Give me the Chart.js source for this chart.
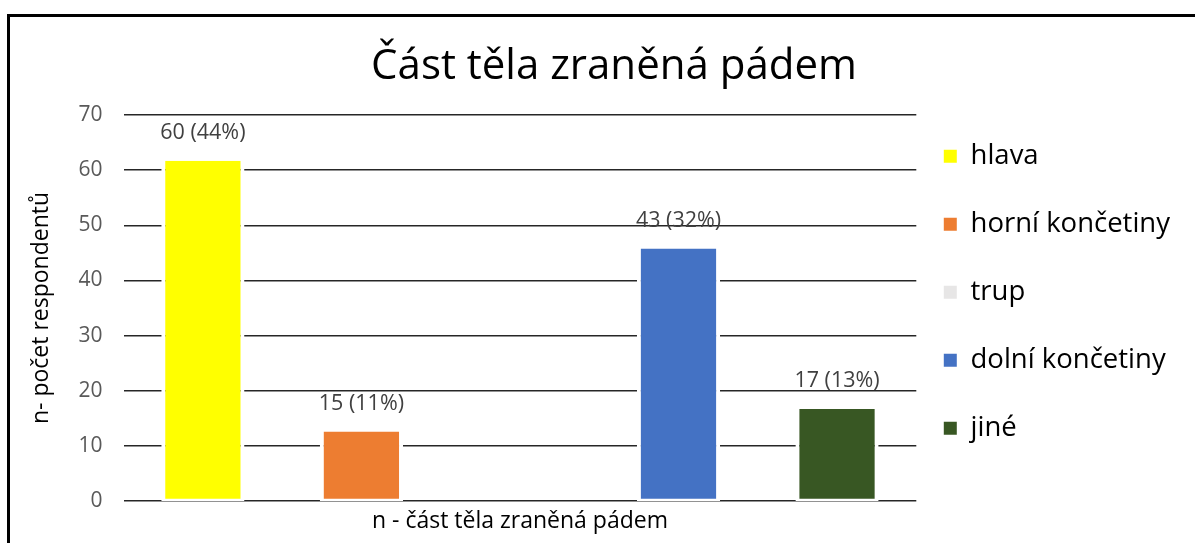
<!DOCTYPE html>
<html>
<head>
<meta charset="utf-8">
<script src="https://cdn.jsdelivr.net/npm/chart.js@4/dist/chart.umd.min.js"></script>
<style>
  html, body { margin: 0; padding: 0; background: #fff; overflow: hidden; }
  #wrap { position: relative; width: 1195px; height: 543px; }
  #frame { position: absolute; left: 7px; top: 14px; width: 1300px; height: 700px; border: 3px solid #000; pointer-events: none; }
  canvas { position: absolute; left: 0; top: 0; }
</style>
</head>
<body>
<div id="wrap">
  <canvas id="chart" width="1195" height="543"></canvas>
  <div id="frame"></div>
</div>
<script>
// data
const categories  = ['hlava', 'horní končetiny', 'trup', 'dolní končetiny', 'jiné'];
const values      = [61.7, 12.6, 0, 45.8, 16.7];
const valueLabels = ['60 (44%)', '15 (11%)', '', '43 (32%)', '17 (13%)'];
const colors      = ['#FFFF00', '#ED7D31', '#E7E6E6', '#4472C4', '#385723'];
const yMin = 0, yMax = 70, yStep = 10;

const chartTitle = 'Část těla zraněná pádem';
const FONT = 'Open Sans';

// popisky nad sloupci
const barLabels = {
  id: 'barLabels',
  afterDatasetsDraw(chart) {
    const { ctx } = chart;
    const meta = chart.getDatasetMeta(0);
    ctx.save();
    ctx.font = `21.5px "${FONT}"`;
    ctx.fillStyle = '#404040';
    ctx.textAlign = 'center';
    ctx.textBaseline = 'middle';
    meta.data.forEach((bar, i) => {
      if (!valueLabels[i]) return;
      ctx.fillText(valueLabels[i], bar.x, bar.y - 28);
    });
    ctx.restore();
  },
};

// nadpis přes celou šířku (posunutý doprava jako v originále)
const bigTitle = {
  id: 'bigTitle',
  afterDraw(chart) {
    const { ctx } = chart;
    ctx.save();
    ctx.font = `42px "${FONT}"`;
    ctx.fillStyle = '#000';
    ctx.textAlign = 'center';
    ctx.textBaseline = 'middle';
    ctx.fillText(chartTitle, 614, 67);
    ctx.restore();
  },
};

new Chart(document.getElementById('chart'), {
  type: 'bar',
  data: {
    labels: categories,
    datasets: [{
      data: values,
      backgroundColor: colors,
      borderColor: '#ffffff',
      borderWidth: c => (c.raw > 0 ? 4 : 0),
      borderSkipped: 'top',
      base: -0.3,
      categoryPercentage: 1,
      barPercentage: 0.525,
    }],
  },
  options: {
    responsive: false,
    animation: false,
    layout: { padding: { left: 11, right: 15, top: 115, bottom: 0 } },
    plugins: {
      title: { display: false },
      legend: {
        position: 'right',
        align: 'start',
        fullSize: false,
        labels: {
          color: '#000',
          font: { family: FONT, size: 27.5, lineHeight: 40.5 / 27.5 },
          boxWidth: 13,
          boxHeight: 13,
          padding: 27.5,
          generateLabels: chart => chart.data.labels.map((t, i) => ({
            text: [t],
            fillStyle: colors[i],
            strokeStyle: colors[i],
            lineWidth: 0,
            fontColor: '#000',
            index: i,
          })),
        },
      },
      tooltip: { enabled: false },
    },
    scales: {
      x: {
        grid: { display: false, drawTicks: false },
        border: { display: false },
        ticks: { display: false },
        title: {
          display: true,
          text: 'n - část těla zraněná pádem',
          color: '#000',
          font: { family: FONT, size: 23 },
          padding: { top: 7, bottom: 7.4 },
        },
      },
      y: {
        min: yMin,
        max: yMax,
        grid: { color: '#262626', lineWidth: 1.5, drawTicks: false },
        border: { display: false },
        ticks: {
          stepSize: yStep,
          color: '#595959',
          padding: 21,
          font: { family: FONT, size: 21 },
        },
        title: {
          display: true,
          text: 'n- počet respondentů',
          color: '#000',
          font: { family: FONT, size: 23 },
          padding: { top: 17, bottom: 2 },
        },
      },
    },
  },
  plugins: [barLabels, bigTitle],
});
</script>
</body>
</html>
